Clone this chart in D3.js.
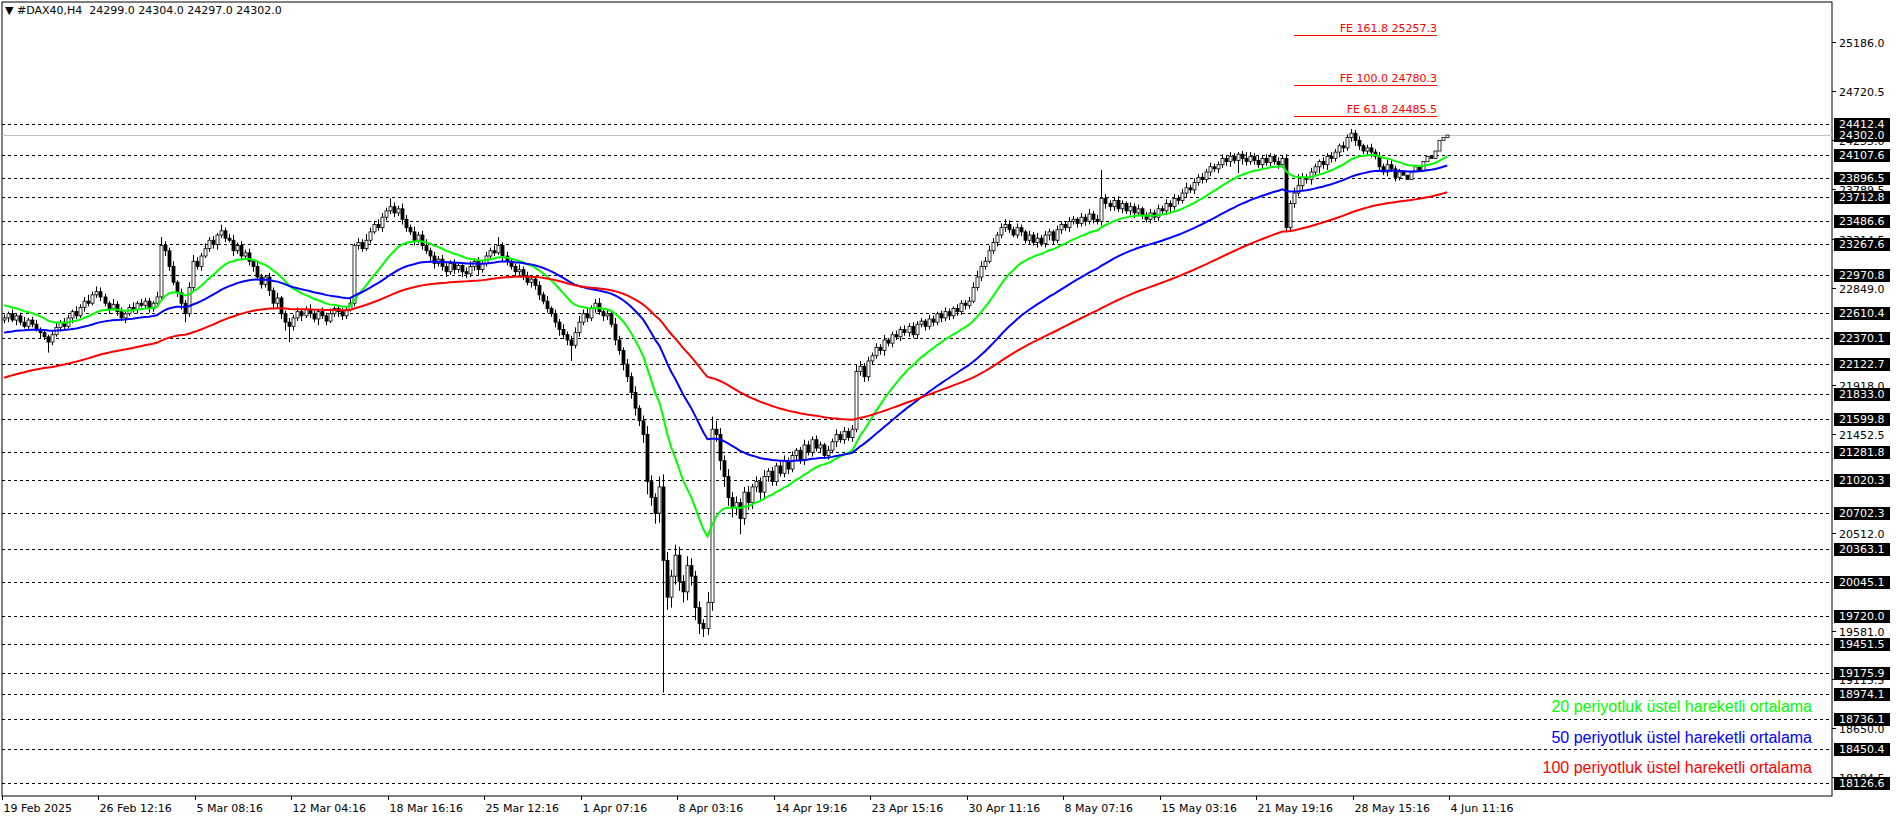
<!DOCTYPE html>
<html><head><meta charset="utf-8">
<script src="https://cdn.jsdelivr.net/npm/d3@7"></script>
<style>body{margin:0;background:#fff}svg{display:block;font-family:"DejaVu Sans",sans-serif}</style>
</head><body><svg id="c" width="1896" height="820"></svg>
<script>
const closes=[
22560,22600,22540,22580,22520,22480,22540,22500,22450,22420,22380,22330,
22400,22470,22520,22480,22560,22620,22580,22660,22720,22700,22780,22810,
22760,22700,22650,22690,22620,22560,22600,22660,22640,22700,22680,22720,
22650,22700,22760,23250,23200,23050,22900,22800,22700,22600,22850,23100,
23050,23150,23220,23300,23260,23350,23390,23320,23300,23200,23250,23150,
23180,23100,23050,22950,22880,22950,22820,22700,22750,22600,22520,22480,
22560,22620,22580,22640,22600,22550,22620,22580,22530,22600,22650,22620,
22580,22640,22700,23250,23280,23220,23300,23380,23450,23420,23520,23580,
23620,23560,23600,23500,23420,23380,23300,23350,23250,23200,23150,23080,
23120,23050,23000,23080,23020,23060,23000,22980,23050,23100,23020,23080,
23150,23200,23180,23250,23150,23100,23050,23000,23020,22960,22900,22930,
22870,22780,22720,22650,22600,22520,22450,22400,22350,22300,22420,22520,
22600,22560,22650,22700,22620,22580,22600,22500,22350,22250,22120,22000,
21850,21700,21580,21450,21000,20850,20700,20950,20250,19900,20100,20300,
20050,19950,20200,20100,19800,19650,19600,19850,21500,21450,21200,21050,
20850,20750,20800,20650,20900,20800,20950,21000,20900,21050,21100,21000,
21150,21080,21200,21120,21250,21300,21200,21350,21280,21400,21320,21350,
21250,21300,21380,21450,21400,21480,21420,21500,22050,22100,22000,22150,
22200,22280,22250,22350,22320,22400,22380,22450,22420,22480,22400,22500,
22530,22480,22550,22520,22600,22560,22620,22580,22650,22620,22700,22680,
22720,22850,22950,23050,23100,23200,23280,23350,23420,23450,23400,23350,
23420,23380,23300,23350,23280,23320,23270,23350,23380,23300,23400,23450,
23420,23480,23500,23460,23520,23480,23550,23500,23480,23700,23650,23620,
23680,23600,23650,23580,23620,23560,23600,23540,23500,23560,23520,23600,
23580,23650,23620,23700,23680,23750,23800,23780,23850,23900,23880,23950,
24000,23980,24020,24080,24050,24100,24060,24120,24080,24050,24100,24060,
24020,24080,24040,24100,24050,24020,24080,23420,23650,23750,23820,23900,
23880,23950,24000,24050,24020,24100,24080,24140,24200,24180,24280,24320,
24250,24200,24150,24180,24140,24100,24000,23950,24020,23980,23900,23950,
23920,23880,23950,24000,23960,24050,24100,24080,24150,24250,24280,24302];
// upper / lower wick lengths in tens of points
const wickUp=[
3,2,4,2,3,5,2,3,4,2,3,2, 3,5,2,4,3,2,5,3,4,6,3,5,
4,3,2,5,3,4,2,3,5,2,4,3, 3,2,5,8,4,3,5,2,4,3,5,6,
4,3,5,3,4,2,6,3,4,5,3,4, 3,4,2,5,3,2,4,3,5,2,3,4,
3,4,2,3,5,3,2,4,3,5,2,3, 4,3,5,2,4,3,6,4,3,5,4,3,
8,4,3,5,4,3,5,3,4,6,3,4, 3,4,5,3,4,2,3,4,5,3,4,3,
4,3,5,8,3,4,2,3,5,3,4,2, 3,4,3,5,2,4,3,5,3,4,5,6,
4,5,3,4,5,3,4,3,6,4,3,5, 4,6,3,5,8,6,4,10,12,8,6,10,
8,6,9,7,5,6,4,10,12,8,6,5, 7,5,6,4,5,6,3,5,4,6,3,4,
3,4,5,3,4,2,3,5,4,3,4,3, 2,4,3,5,3,4,3,4,6,5,3,4,
3,4,3,5,2,3,4,3,4,3,4,3, 3,2,4,3,2,3,4,3,2,4,3,3,
4,5,6,5,4,5,4,3,4,5,4,3, 4,3,2,4,3,5,3,4,3,2,4,3,
3,4,3,2,4,3,5,3,4,27,4,3, 3,4,3,2,4,3,4,2,3,4,3,4,
3,4,3,4,3,4,5,3,4,3,4,3, 4,3,3,4,3,4,3,2,3,6,4,3,
5,3,4,3,2,4,3,4,3,5,11,4, 3,4,3,2,4,3,4,3,2,4,3,4,
3,4,2,3,4,3,4,3,5,4,3,3];
const wickDn=[
3,4,2,5,3,2,4,3,2,5,3,10, 3,2,4,3,2,5,3,2,4,3,2,3,
4,3,5,2,4,3,5,2,3,4,2,3, 4,3,2,3,5,4,3,4,6,8,3,4,
3,4,2,3,4,5,3,4,2,5,3,4, 3,4,5,3,4,3,5,6,4,5,8,15,
4,3,5,2,4,3,6,3,4,2,3,5, 4,3,2,3,4,3,2,3,2,3,4,3,
3,4,3,5,4,3,5,3,4,3,6,5, 3,4,5,3,4,3,5,4,3,4,5,3,
3,4,3,2,5,4,3,4,3,4,3,5, 4,5,3,4,3,5,6,4,5,15,3,4,
3,4,3,4,3,5,4,3,5,4,6,5, 6,7,5,8,12,8,10,9,126,12,10,8,
9,10,8,9,12,10,8,6,8,7,9,10, 8,9,7,15,6,7,6,5,7,6,5,4,
4,3,4,5,3,4,3,4,3,4,3,4, 3,4,3,5,3,4,3,4,3,4,5,4,
4,3,4,5,3,4,3,4,3,4,3,4, 3,4,3,4,3,4,3,4,3,4,3,4,
3,2,3,4,3,2,3,4,3,4,3,2, 3,4,3,4,3,5,3,4,5,4,3,4,
3,4,3,4,3,4,3,4,3,4,5,4, 4,3,4,3,4,5,3,4,3,4,3,4,
3,4,5,3,4,3,4,3,4,3,4,3, 4,3,4,3,4,5,3,12,6,4,3,4,
3,4,3,4,3,4,3,4,3,4,3,4, 4,5,3,6,4,5,4,3,5,4,3,4,
5,4,3,4,5,3,4,3,4,3,4,3];
const firstOpen=22540;
const emaPeriods=[20,50,100];
const emaSeeds=[22680,22420,21990];
const emaColors=["#00ff00","#0000ff","#ff0000"];
const levels=[24412.4,24107.6,23896.5,23712.8,23486.6,23267.6,22970.8,22610.4,22370.1,22122.7,21833.0,21599.8,21281.8,21020.3,20702.3,20363.1,20045.1,19720.0,19451.5,19175.9,18974.1,18736.1,18450.4,18126.6];
const axisTicks=[25186.0,24720.5,24255.0,23789.5,23314.5,22849.0,21918.0,21452.5,20512.0,19581.0,19115.5,18650.0,18184.5];
const lastPrice=24302.0;
const feLevels=[["FE 161.8",25257.3],["FE 100.0",24780.3],["FE 61.8",24485.5]];
const timeLabels=["19 Feb 2025","26 Feb 12:16","5 Mar 08:16","12 Mar 04:16","18 Mar 16:16","25 Mar 12:16","1 Apr 07:16","8 Apr 03:16","14 Apr 19:16","23 Apr 15:16","30 Apr 11:16","8 May 07:16","15 May 03:16","21 May 19:16","28 May 15:16","4 Jun 11:16"];
const legend=["20 periyotluk üstel hareketli ortalama","50 periyotluk üstel hareketli ortalama","100 periyotluk üstel hareketli ortalama"];
const header="#DAX40,H4  24299.0 24304.0 24297.0 24302.0";

const svg=d3.select("#c");
const L=2,R=1832,T=2,B=796,step=4.02;
const n=closes.length;
const x=d3.scaleLinear().domain([-0.5,n-0.5]).range([L,L+n*step]);
const y=d3.scaleLinear().domain([18126.6,24412.4]).range([783.3,123.5]);
const bars=closes.map((c,i)=>{const o=i?closes[i-1]:firstOpen;return{i,o,c,h:Math.max(o,c)+wickUp[i]*10,l:Math.min(o,c)-wickDn[i]*10};});

svg.append("rect").attr("x",L).attr("y",T).attr("width",R-L).attr("height",B-T).attr("fill","#fff").attr("stroke","#000");
svg.selectAll("line.lv").data(levels).join("line").attr("x1",L).attr("x2",R)
 .attr("y1",d=>Math.round(y(d))+0.5).attr("y2",d=>Math.round(y(d))+0.5).attr("stroke","#000").attr("stroke-dasharray","3,3");
svg.append("line").attr("x1",L).attr("x2",R).attr("y1",Math.round(y(lastPrice))+0.5).attr("y2",Math.round(y(lastPrice))+0.5).attr("stroke","#c0c0c0");
const feX1=1294,feX2=1437;
feLevels.forEach(([t,v])=>{
 const yy=Math.round(y(v))+0.5;
 svg.append("line").attr("x1",feX1).attr("x2",feX2).attr("y1",yy).attr("y2",yy).attr("stroke","#ff0000");
 svg.append("text").attr("x",feX2).attr("y",yy-4).attr("text-anchor","end").attr("font-size",11).attr("fill","#ff0000").text(t+" "+v.toFixed(1));
});
const g=svg.append("g");
g.selectAll("line.w").data(bars).join("line").attr("x1",d=>Math.round(x(d.i))+0.5).attr("x2",d=>Math.round(x(d.i))+0.5)
 .attr("y1",d=>y(d.h)).attr("y2",d=>y(d.l)).attr("stroke","#000");
g.selectAll("rect.b").data(bars).join("rect").attr("x",d=>Math.round(x(d.i))-1).attr("width",3)
 .attr("y",d=>y(Math.max(d.o,d.c))).attr("height",d=>Math.max(1,Math.abs(y(d.o)-y(d.c))))
 .attr("fill",d=>d.c>=d.o?"#fff":"#000").attr("stroke","#000").attr("stroke-width",0.8);
emaPeriods.forEach((p,k)=>{
 const a=2/(p+1);let e=emaSeeds[k];
 const vals=closes.map((c,i)=>{if(i>0)e=a*c+(1-a)*e;return e;});
 svg.append("path").datum(vals).attr("fill","none").attr("stroke",emaColors[k]).attr("stroke-width",2)
  .attr("d",d3.line().x((d,i)=>x(i)).y(d=>y(d)));
});
const ax=svg.append("g").attr("font-size",11);
axisTicks.forEach(v=>{const yy=Math.round(y(v))+0.5;
 ax.append("line").attr("x1",R).attr("x2",R+4).attr("y1",yy).attr("y2",yy).attr("stroke","#000");
 ax.append("text").attr("x",R+7).attr("y",yy+4).text(v.toFixed(1));});
[...levels,lastPrice].forEach(v=>{const yy=Math.round(y(v));
 ax.append("rect").attr("x",R+2).attr("y",yy-6).attr("width",56).attr("height",13).attr("fill","#000");
 ax.append("text").attr("x",R+7).attr("y",yy+4).attr("fill","#fff").text(v.toFixed(1));});
timeLabels.forEach((t,k)=>{const xx=Math.round(x(k*24)-step/2)+0.5;
 svg.append("line").attr("x1",xx).attr("x2",xx).attr("y1",B).attr("y2",B+4).attr("stroke","#000");
 svg.append("text").attr("x",xx+1).attr("y",B+16).attr("font-size",11).text(t);});
svg.append("text").attr("x",5).attr("y",14).attr("font-size",11).attr("xml:space","preserve").text("▼ "+header);
legend.forEach((t,k)=>svg.append("text").attr("x",1812).attr("y",712+k*30.5).attr("text-anchor","end")
 .attr("font-family","Liberation Sans, Arial").attr("font-size",16).attr("fill",emaColors[k]).text(t));
</script></body></html>
